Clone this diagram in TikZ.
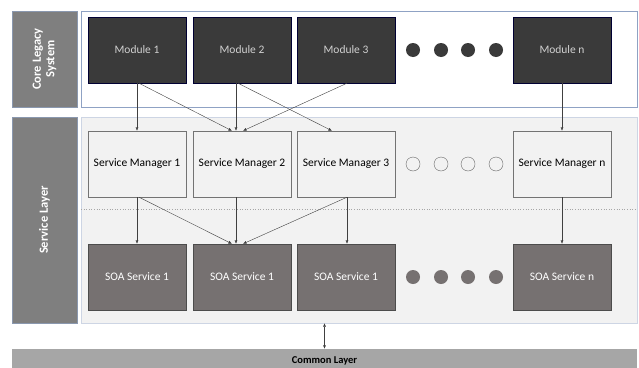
\documentclass[tikz,border=0pt]{standalone}
\usepackage{fontspec}
\setmainfont{Carlito}
\usetikzlibrary{arrows.meta,calc,positioning}
\definecolor{lblgray}{HTML}{7F7F7F}
\definecolor{modfill}{HTML}{3A3A3A}
\definecolor{soafill}{HTML}{767171}
\definecolor{panel}{HTML}{F2F2F2}
\definecolor{edgeblue}{HTML}{8FA2C4}
\definecolor{commonfill}{HTML}{A6A6A6}

\begin{document}
\begin{tikzpicture}[x=1pt,y=-1pt,
  lbl/.style={rectangle, fill=lblgray, draw=edgeblue!70!gray, text=white, font=\bfseries\fontsize{12.5}{13.5}\selectfont, align=center, rotate=90, inner sep=0pt},
  box/.style={rectangle, inner sep=0pt, minimum width=98pt, minimum height=66pt, font=\fontsize{11.5}{13}\selectfont},
  arr/.style={draw=black!75, line width=0.4pt, -{Latex[length=3.5pt,width=3pt]}}]
\useasboundingbox (0,0) rectangle (639,367);
% containers
\node[rectangle, draw=edgeblue, fill=white, minimum width=556pt, minimum height=96pt] (legacy) at (359,59) {};
\node[rectangle, draw=edgeblue!45, fill=panel, minimum width=556pt, minimum height=206pt] (svc) at (359,220) {};
\node[lbl, minimum width=96pt, minimum height=65pt] (lblcore) at (44.5,59) {Core Legacy\\System};
\node[lbl, minimum width=206pt, minimum height=65pt] (lblsvc) at (44.5,220) {Service Layer};
\draw[gray!70, dotted, line width=0.6pt] (81,209) -- (637,209);
% modules
\node[box, fill=modfill, draw=black!80!blue, text=black!18] (mod1) at (137,50) {Module 1};
\node[box, fill=modfill, draw=black!80!blue, text=black!18] (mod2) at (242,50) {Module 2};
\node[box, fill=modfill, draw=black!80!blue, text=black!18] (mod3) at (346,50) {Module 3};
\node[box, fill=modfill, draw=black!80!blue, text=black!18] (modn) at (562,50) {Module n};
% service managers
\node[box, fill=panel, draw=black!55] (sm1) at (137,164) {Service Manager 1};
\node[box, fill=panel, draw=black!55] (sm2) at (242,164) {Service Manager 2};
\node[box, fill=panel, draw=black!55] (sm3) at (346,164) {Service Manager 3};
\node[box, fill=panel, draw=black!55] (smn) at (562,164) {Service Manager n};
% soa services
\node[box, fill=soafill, draw=black!70, text=white] (soa1) at (137,277) {SOA Service 1};
\node[box, fill=soafill, draw=black!70, text=white] (soa2) at (242,277) {SOA Service 1};
\node[box, fill=soafill, draw=black!70, text=white] (soa3) at (346,277) {SOA Service 1};
\node[box, fill=soafill, draw=black!70, text=white] (soan) at (562,277) {SOA Service n};
% dots
\foreach \x in {413,441,468,496} {
  \fill[modfill] (\x,50) circle (7);
  \draw[black!60, fill=panel] (\x,164) circle (7);
  \fill[soafill] (\x,277) circle (7);
}
% common layer
\node[rectangle, fill=commonfill, minimum width=625pt, minimum height=24pt, inner sep=0pt, font=\bfseries\fontsize{10.5}{12}\selectfont] (common) at (324.5,361) {Common Layer};
% arrows top
\draw[arr] (mod1.south) -- (sm1.north);
\draw[arr] ([xshift=2]mod1.south) -- ([xshift=-10]sm2.north);
\draw[arr] ([xshift=-6]mod2.south) -- ([xshift=-6]sm2.north);
\draw[arr] ([xshift=-4]mod2.south) -- ([xshift=-14]sm3.north);
\draw[arr] ([xshift=1]mod3.south) -- ([xshift=1]sm2.north);
\draw[arr] (modn.south) -- (smn.north);
% arrows bottom
\draw[arr] (sm1.south) -- (soa1.north);
\draw[arr] ([xshift=2]sm1.south) -- ([xshift=-10]soa2.north);
\draw[arr] ([xshift=-6]sm2.south) -- ([xshift=-6]soa2.north);
\draw[arr] ([xshift=1]sm3.south) -- ([xshift=1]soa2.north);
\draw[arr] ([xshift=1]sm3.south) -- ([xshift=1]soa3.north);
\draw[arr] (smn.south) -- (soan.north);
\draw[arr, {Latex[length=3.5pt,width=3pt]}-{Latex[length=3.5pt,width=3pt]}] (svc.south -| common.north) -- (common.north);
\end{tikzpicture}
\end{document}
